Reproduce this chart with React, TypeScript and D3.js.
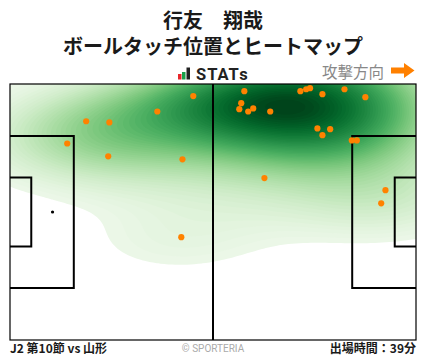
import React, { useMemo } from "react";
import * as d3 from "d3";

// pitch size in metres
const PITCH_LENGTH = 105;
const PITCH_WIDTH = 68;

// ball touches (metres from own goal line / from top touchline)
const touchX = [
  47.4, 38.1, 19.7, 25.7, 14.8, 25.4, 44.6, 44.3, 60.6, 75.1, 76.6, 77.6, 86.5, 80.8,
  91.9, 59.8, 59.3, 61.6, 62.9, 67.3, 79.5, 82.8, 80.8, 88.4, 89.7, 97.1, 96.0, 65.8,
];
const touchY = [
  3.2, 7.3, 9.9, 10.2, 15.8, 19.2, 20.0, 40.7, 1.9, 1.9, 1.4, 1.1, 1.4, 2.7,
  3.5, 5.1, 6.7, 7.3, 6.5, 7.3, 11.8, 12.0, 13.6, 15.0, 15.0, 28.2, 31.7, 25.0,
];

const W = 428;
const H = 359;
const left = 10;
const right = 416;
const top = 84;
const bottom = 340;

const x = d3.scaleLinear().domain([0, PITCH_LENGTH]).range([left, right]);
const y = d3.scaleLinear().domain([0, PITCH_WIDTH]).range([top, bottom]);

// gaussian kde (scott's rule, full covariance) + iso-proportion levels like seaborn
function heatBands(px: number[], py: number[], nLevels: number, thresh: number, bwAdjust: number) {
  const n = px.length;
  const mx = d3.mean(px)!;
  const my = d3.mean(py)!;
  let sxx = 0, syy = 0, sxy = 0;
  for (let i = 0; i < n; i++) {
    const dx = px[i] - mx, dy = py[i] - my;
    sxx += dx * dx; syy += dy * dy; sxy += dx * dy;
  }
  const f = Math.pow(n, -1 / 6) * bwAdjust;
  const cxx = (sxx / (n - 1)) * f * f;
  const cyy = (syy / (n - 1)) * f * f;
  const cxy = (sxy / (n - 1)) * f * f;
  const det = cxx * cyy - cxy * cxy;
  const ixx = cyy / det, iyy = cxx / det, ixy = -cxy / det;
  const bwx = Math.sqrt(cxx), bwy = Math.sqrt(cyy);
  const x0 = d3.min(px)! - 3 * bwx, x1 = d3.max(px)! + 3 * bwx;
  const y0 = d3.min(py)! - 3 * bwy, y1 = d3.max(py)! + 3 * bwy;
  const nx = 200, ny = 200;
  const stepX = (x1 - x0) / (nx - 1), stepY = (y1 - y0) / (ny - 1);
  const values = new Array(nx * ny);
  for (let j = 0; j < ny; j++) {
    const gy = y0 + j * stepY;
    for (let i = 0; i < nx; i++) {
      const gx = x0 + i * stepX;
      let s = 0;
      for (let k = 0; k < n; k++) {
        const dx = gx - px[k], dy = gy - py[k];
        s += Math.exp(-0.5 * (ixx * dx * dx + 2 * ixy * dx * dy + iyy * dy * dy));
      }
      values[j * nx + i] = s;
    }
  }
  const sorted = values.slice().sort((a, b) => b - a);
  const total = d3.sum(sorted);
  const cum: number[] = [];
  let acc = 0;
  for (const v of sorted) { acc += v; cum.push(acc / total); }
  const levels = d3.range(nLevels).map(i => {
    const p = thresh + (i * (1 - thresh)) / (nLevels - 1);
    const idx = Math.min(d3.bisectLeft(cum, 1 - p), sorted.length - 1);
    return sorted[idx];
  });
  const proj = d3.geoTransform({
    point(cx: number, cy: number) {
      this.stream.point(x0 + (cx - 0.5) * stepX, y0 + (cy - 0.5) * stepY);
    },
  });
  const path = d3.geoPath(proj);
  const contours = d3.contours().size([nx, ny]).thresholds(levels.slice(0, -1))(values);
  const shade = d3.scaleLinear().domain([0, nLevels - 2]).range([0.08, 1]);
  return contours.map((c, i) => ({
    d: path(c as any) || "",
    color: d3.interpolateGreens(shade(i)),
  }));
}

export default function App() {
  const px = touchX.map(v => x(v));
  const py = touchY.map(v => y(v));
  const bands = useMemo(() => heatBands(px, py, 60, 0.05, 1.35), []);

  const pen = { depth: 16.5, width: 40.32 };
  const six = { depth: 5.5, width: 18.32 };
  const mid = PITCH_WIDTH / 2;

  return (
    <svg width={W} height={H} style={{ position: "absolute", left: 0, top: 0 }}
      fontFamily="'Noto Sans CJK JP', sans-serif">
      <defs>
        <clipPath id="pitch">
          <rect x={left} y={top} width={right - left} height={bottom - top} />
        </clipPath>
      </defs>
      <rect width={W} height={H} fill="#fff" />

      <text x={213} y={28} textAnchor="middle" fontSize={20} fontWeight="bold" fill="#1a1a1a">行友　翔哉</text>
      <text x={213} y={53.5} textAnchor="middle" fontSize={20} fontWeight="bold" fill="#1a1a1a">ボールタッチ位置とヒートマップ</text>

      {/* STATs logo */}
      <rect x={178} y={74} width={3.5} height={5.5} fill="#e8262b" />
      <rect x={182} y={72} width={3.5} height={7.5} fill="#1aa04a" />
      <rect x={186.5} y={67.5} width={3.5} height={12} fill="#222" />
      <text x={196} y={79.5} fontFamily="Roboto, sans-serif" fontWeight="bold" fontSize={16.5}
        letterSpacing={1} fill="#222">STATs</text>

      <text x={384} y={78} textAnchor="end" fontSize={15.5} fill="#888">攻撃方向</text>
      <path d="M391,67.5 H404 V63 L414.5,70.5 L404,78 V73.5 H391 Z" fill="#ff8000" />

      <g clipPath="url(#pitch)">
        {bands.map((b, i) => (
          <path key={i} d={b.d} fill={b.color} />
        ))}
      </g>

      <g fill="none" stroke="#000">
        <rect x={left} y={top} width={right - left} height={bottom - top} strokeWidth={1.2} />
        <line x1={x(PITCH_LENGTH / 2)} x2={x(PITCH_LENGTH / 2)} y1={top} y2={bottom} strokeWidth={2} />
        <path strokeWidth={2}
          d={`M${x(0)},${y(mid - pen.width / 2)} H${x(pen.depth)} V${y(mid + pen.width / 2)} H${x(0)}`} />
        <path strokeWidth={2}
          d={`M${x(0)},${y(mid - six.width / 2)} H${x(six.depth)} V${y(mid + six.width / 2)} H${x(0)}`} />
        <path strokeWidth={2}
          d={`M${x(PITCH_LENGTH)},${y(mid - pen.width / 2)} H${x(PITCH_LENGTH - pen.depth)} V${y(mid + pen.width / 2)} H${x(PITCH_LENGTH)}`} />
        <path strokeWidth={2}
          d={`M${x(PITCH_LENGTH)},${y(mid - six.width / 2)} H${x(PITCH_LENGTH - six.depth)} V${y(mid + six.width / 2)} H${x(PITCH_LENGTH)}`} />
      </g>
      <circle cx={x(11)} cy={y(mid)} r={1.6} fill="#000" />

      {px.map((cx, i) => (
        <circle key={i} cx={cx} cy={py[i]} r={3.1} fill="#ff8200" />
      ))}

      <text x={10} y={353} fontSize={12} fontWeight="bold" fill="#1a1a1a">J2 第10節 vs 山形</text>
      <text x={213} y={352} textAnchor="middle" fontFamily="Roboto, sans-serif" fontSize={10} fill="#aaa">© SPORTERIA</text>
      <text x={416} y={353} textAnchor="end" fontSize={12} fontWeight="bold" fill="#1a1a1a">出場時間：39分</text>
    </svg>
  );
}
